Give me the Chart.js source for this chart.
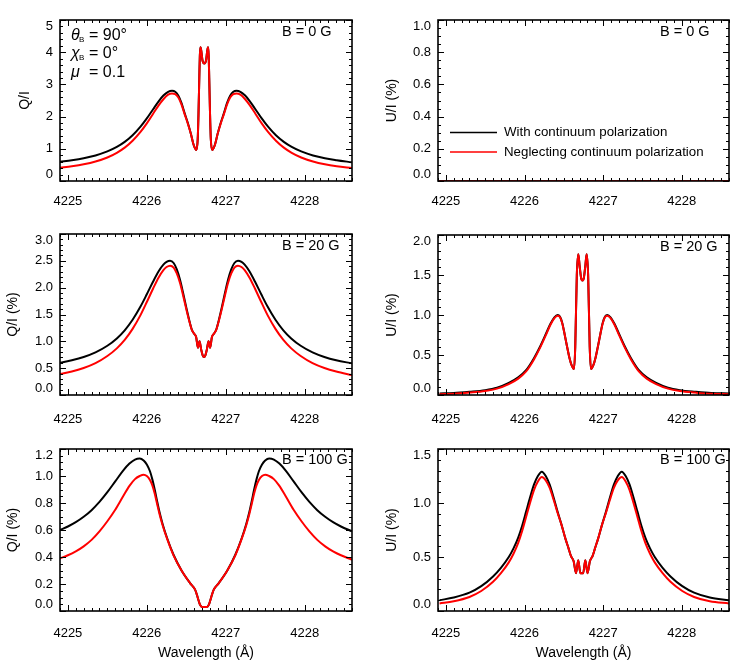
<!DOCTYPE html>
<html><head><meta charset="utf-8">
<script src="https://cdn.jsdelivr.net/npm/chart.js@4.4.1/dist/chart.umd.min.js"></script>
<style>
html,body{margin:0;padding:0;background:#fff;}
#wrap{position:relative;width:752px;height:671px;overflow:hidden;background:#fff;}
canvas{position:absolute;display:block;}
</style></head><body><div id="wrap">
<canvas id="c1" width="376" height="220" style="left:0;top:0;width:376px;height:220px"></canvas>
<canvas id="c2" width="376" height="220" style="left:376px;top:0;width:376px;height:220px"></canvas>
<canvas id="c3" width="376" height="220" style="left:0;top:220px;width:376px;height:220px"></canvas>
<canvas id="c4" width="376" height="220" style="left:376px;top:220px;width:376px;height:220px"></canvas>
<canvas id="c5" width="376" height="231" style="left:0;top:440px;width:376px;height:231px"></canvas>
<canvas id="c6" width="376" height="231" style="left:376px;top:440px;width:376px;height:231px"></canvas>
</div>
<script>
// ---------------- data ----------------
const seriesNames = ['With continuum polarization', 'Neglecting continuum polarization'];
const xTickValues = [4225, 4226, 4227, 4228];

// Q/I, B = 0 G
const wlQ0 = [4224.90, 4225.05, 4225.20, 4225.35, 4225.50, 4225.62, 4225.72, 4225.82, 4225.92, 4226.00, 4226.08, 4226.15, 4226.21, 4226.27, 4226.32, 4226.36, 4226.40, 4226.44, 4226.48, 4226.52, 4226.56, 4226.59, 4226.61, 4226.627, 4226.645, 4226.655, 4226.665, 4226.672, 4226.68, 4226.69, 4226.705, 4226.728,
  4226.751, 4226.766, 4226.776, 4226.784, 4226.791, 4226.801, 4226.811, 4226.829, 4226.846, 4226.866, 4226.896, 4226.936, 4226.976, 4227.016, 4227.056, 4227.096, 4227.136, 4227.186, 4227.246, 4227.306, 4227.376, 4227.456, 4227.536, 4227.636, 4227.736, 4227.836, 4227.956, 4228.106, 4228.256, 4228.406, 4228.60];
const q0With = [0.60, 0.647, 0.708, 0.794, 0.918, 1.058, 1.214, 1.42, 1.687, 1.944, 2.23, 2.476, 2.653, 2.77, 2.80, 2.77, 2.65, 2.42, 2.10, 1.80, 1.45, 1.15, 1.02, 0.96, 1.30, 2.10, 3.20, 3.90, 4.15, 4.05, 3.75, 3.65,
  3.75, 4.05, 4.15, 3.90, 3.20, 2.10, 1.30, 0.96, 1.02, 1.15, 1.45, 1.80, 2.10, 2.42, 2.65, 2.77, 2.80, 2.77, 2.653, 2.476, 2.23, 1.944, 1.687, 1.42, 1.214, 1.058, 0.918, 0.794, 0.708, 0.647, 0.58];
const q0Neg = [0.41, 0.457, 0.518, 0.605, 0.73, 0.875, 1.036, 1.25, 1.525, 1.79, 2.09, 2.35, 2.54, 2.68, 2.72, 2.70, 2.59, 2.37, 2.07, 1.78, 1.45, 1.15, 1.02, 0.96, 1.30, 2.10, 3.20, 3.90, 4.15, 4.05, 3.75, 3.65,
  3.75, 4.05, 4.15, 3.90, 3.20, 2.10, 1.30, 0.96, 1.02, 1.15, 1.45, 1.78, 2.07, 2.37, 2.59, 2.70, 2.72, 2.68, 2.54, 2.35, 2.09, 1.79, 1.525, 1.25, 1.036, 0.875, 0.73, 0.605, 0.518, 0.457, 0.40];

// U/I, B = 0 G
const wlU0 = [4224.90, 4225.50, 4226.00, 4226.50, 4227.00, 4227.50, 4228.00, 4228.60];
const u0With = [0, 0, 0, 0, 0, 0, 0, 0];
const u0Neg  = [0, 0, 0, 0, 0, 0, 0, 0];

// Q/I, B = 20 G
const wlQ20 = [4224.90, 4225.05, 4225.20, 4225.35, 4225.50, 4225.62, 4225.72, 4225.82, 4225.92, 4226.00, 4226.08, 4226.15, 4226.21, 4226.25, 4226.295, 4226.34, 4226.38, 4226.42, 4226.46, 4226.50, 4226.54, 4226.57, 4226.60, 4226.625, 4226.648, 4226.668, 4226.69, 4226.708, 4226.725,
  4226.742, 4226.76, 4226.782, 4226.802, 4226.825, 4226.85, 4226.88, 4226.91, 4226.95, 4226.99, 4227.03, 4227.07, 4227.11, 4227.155, 4227.20, 4227.24, 4227.30, 4227.37, 4227.45, 4227.53, 4227.63, 4227.73, 4227.83, 4227.95, 4228.10, 4228.25, 4228.40, 4228.60];
const q20With = [0.60, 0.647, 0.708, 0.794, 0.917, 1.054, 1.206, 1.402, 1.648, 1.877, 2.115, 2.306, 2.429, 2.48, 2.50, 2.46, 2.34, 2.15, 1.90, 1.63, 1.38, 1.22, 1.14, 1.08, 0.88, 1.00, 0.84, 0.74, 0.71,
  0.74, 0.84, 1.00, 0.88, 1.08, 1.14, 1.22, 1.38, 1.63, 1.90, 2.15, 2.34, 2.46, 2.50, 2.48, 2.429, 2.306, 2.115, 1.877, 1.648, 1.402, 1.206, 1.054, 0.917, 0.794, 0.708, 0.647, 0.59];
const q20Neg = [0.39, 0.437, 0.503, 0.594, 0.727, 0.869, 1.026, 1.232, 1.488, 1.732, 1.985, 2.191, 2.329, 2.385, 2.41, 2.375, 2.265, 2.09, 1.855, 1.60, 1.365, 1.215, 1.14, 1.08, 0.88, 1.00, 0.84, 0.74, 0.71,
  0.74, 0.84, 1.00, 0.88, 1.08, 1.14, 1.215, 1.365, 1.60, 1.855, 2.09, 2.265, 2.375, 2.41, 2.385, 2.329, 2.191, 1.985, 1.732, 1.488, 1.232, 1.026, 0.869, 0.727, 0.594, 0.503, 0.437, 0.37];

// U/I, B = 20 G
const wlU20 = [4224.92, 4225.10, 4225.30, 4225.50, 4225.65, 4225.80, 4225.92, 4226.02, 4226.12, 4226.20, 4226.27, 4226.33, 4226.38, 4226.42, 4226.45, 4226.48, 4226.51, 4226.54, 4226.57, 4226.60, 4226.629, 4226.645, 4226.665, 4226.684, 4226.70, 4226.72, 4226.737,
  4226.754, 4226.774, 4226.79, 4226.809, 4226.829, 4226.845, 4226.874, 4226.904, 4226.934, 4226.964, 4226.994, 4227.024, 4227.054, 4227.094, 4227.144, 4227.204, 4227.274, 4227.354, 4227.454, 4227.554, 4227.674, 4227.824, 4227.974, 4228.174, 4228.374, 4228.60];
const u20With = [0.02, 0.025, 0.04, 0.06, 0.09, 0.15, 0.22, 0.31, 0.46, 0.61, 0.76, 0.89, 0.97, 1.00, 0.98, 0.90, 0.76, 0.61, 0.47, 0.37, 0.325, 0.60, 1.50, 1.76, 1.62, 1.46, 1.43,
  1.46, 1.62, 1.76, 1.50, 0.60, 0.325, 0.37, 0.47, 0.61, 0.76, 0.90, 0.98, 1.00, 0.97, 0.89, 0.76, 0.61, 0.46, 0.31, 0.22, 0.15, 0.09, 0.06, 0.04, 0.025, 0.02];
const u20Neg = [0.01, 0.015, 0.03, 0.05, 0.08, 0.137, 0.205, 0.295, 0.445, 0.595, 0.745, 0.878, 0.96, 0.99, 0.975, 0.895, 0.76, 0.61, 0.47, 0.37, 0.325, 0.60, 1.50, 1.76, 1.62, 1.46, 1.43,
  1.46, 1.62, 1.76, 1.50, 0.60, 0.325, 0.37, 0.47, 0.61, 0.76, 0.895, 0.975, 0.99, 0.96, 0.878, 0.745, 0.595, 0.445, 0.295, 0.205, 0.137, 0.08, 0.05, 0.03, 0.015, 0.01];

// Q/I, B = 100 G
const wlQ100 = [4224.90, 4225.00, 4225.10, 4225.20, 4225.30, 4225.40, 4225.50, 4225.60, 4225.70, 4225.78, 4225.85, 4225.91, 4225.96, 4226.00, 4226.04, 4226.07, 4226.10, 4226.13, 4226.16, 4226.20, 4226.26, 4226.34, 4226.44, 4226.55, 4226.61, 4226.635, 4226.655, 4226.675, 4226.70, 4226.73,
  4226.76, 4226.785, 4226.805, 4226.825, 4226.85, 4226.91, 4227.02, 4227.12, 4227.20, 4227.26, 4227.30, 4227.33, 4227.36, 4227.39, 4227.42, 4227.46, 4227.50, 4227.55, 4227.61, 4227.68, 4227.76, 4227.86, 4227.96, 4228.06, 4228.16, 4228.26, 4228.36, 4228.46, 4228.60];
const q100With = [0.60, 0.626, 0.658, 0.698, 0.747, 0.808, 0.880, 0.960, 1.040, 1.092, 1.122, 1.13, 1.115, 1.085, 1.035, 0.975, 0.90, 0.815, 0.735, 0.645, 0.535, 0.415, 0.30, 0.205, 0.16, 0.12, 0.08, 0.045, 0.03, 0.03,
  0.03, 0.045, 0.08, 0.12, 0.16, 0.205, 0.30, 0.415, 0.535, 0.645, 0.735, 0.815, 0.90, 0.975, 1.035, 1.085, 1.115, 1.13, 1.122, 1.092, 1.040, 0.960, 0.880, 0.808, 0.747, 0.698, 0.658, 0.626, 0.59];
const q100Neg = [0.39, 0.413, 0.442, 0.479, 0.527, 0.59, 0.665, 0.75, 0.85, 0.927, 0.977, 1.00, 1.01, 1.00, 0.97, 0.93, 0.87, 0.795, 0.72, 0.635, 0.53, 0.41, 0.30, 0.205, 0.16, 0.12, 0.08, 0.045, 0.03, 0.03,
  0.03, 0.045, 0.08, 0.12, 0.16, 0.205, 0.30, 0.41, 0.53, 0.635, 0.72, 0.795, 0.87, 0.93, 0.97, 1.00, 1.01, 1.00, 0.977, 0.927, 0.85, 0.75, 0.665, 0.59, 0.527, 0.479, 0.442, 0.413, 0.38];

// U/I, B = 100 G
const wlU100 = [4224.92, 4225.10, 4225.30, 4225.45, 4225.60, 4225.70, 4225.80, 4225.86, 4225.92, 4225.97, 4226.02, 4226.07, 4226.12, 4226.17, 4226.22, 4226.27, 4226.32, 4226.37, 4226.42, 4226.47, 4226.52, 4226.56, 4226.59, 4226.625, 4226.655, 4226.683, 4226.71, 4226.728,
  4226.746, 4226.773, 4226.801, 4226.831, 4226.866, 4226.896, 4226.936, 4226.986, 4227.036, 4227.086, 4227.136, 4227.186, 4227.236, 4227.286, 4227.336, 4227.386, 4227.436, 4227.486, 4227.536, 4227.596, 4227.656, 4227.756, 4227.856, 4228.006, 4228.156, 4228.356, 4228.60];
const u100With = [0.10, 0.125, 0.17, 0.23, 0.32, 0.40, 0.50, 0.58, 0.68, 0.79, 0.92, 1.05, 1.17, 1.25, 1.29, 1.25, 1.17, 1.05, 0.92, 0.80, 0.67, 0.58, 0.51, 0.46, 0.35, 0.47, 0.35, 0.35,
  0.35, 0.47, 0.35, 0.46, 0.51, 0.58, 0.67, 0.80, 0.92, 1.05, 1.17, 1.25, 1.29, 1.25, 1.17, 1.05, 0.92, 0.79, 0.68, 0.58, 0.50, 0.40, 0.32, 0.23, 0.17, 0.125, 0.10];
const u100Neg = [0.07, 0.09, 0.13, 0.185, 0.27, 0.35, 0.45, 0.53, 0.63, 0.74, 0.87, 1.00, 1.12, 1.20, 1.24, 1.21, 1.14, 1.03, 0.91, 0.80, 0.67, 0.58, 0.51, 0.46, 0.35, 0.47, 0.35, 0.35,
  0.35, 0.47, 0.35, 0.46, 0.51, 0.58, 0.67, 0.80, 0.91, 1.03, 1.14, 1.21, 1.24, 1.20, 1.12, 1.00, 0.87, 0.74, 0.63, 0.53, 0.45, 0.35, 0.27, 0.185, 0.13, 0.09, 0.07];

// y tick labels per panel
const yTicksQ0 = [0, 1, 2, 3, 4, 5];
const yTicksU0 = [0.0, 0.2, 0.4, 0.6, 0.8, 1.0];
const yTicksQ20 = [0.0, 0.5, 1.0, 1.5, 2.0, 2.5, 3.0];
const yTicksU20 = [0.0, 0.5, 1.0, 1.5, 2.0];
const yTicksQ100 = [0.0, 0.2, 0.4, 0.6, 0.8, 1.0, 1.2];
const yTicksU100 = [0.0, 0.5, 1.0, 1.5];

// ---------------- drawing ----------------
const FONT = '"Liberation Sans", Arial, Helvetica, sans-serif';
Chart.defaults.font.family = FONT;
Chart.defaults.color = '#000';
const XMIN = 4224.9, XMAX = 4228.6;

const framePlugin = {
  id: 'frameTicks',
  afterDatasetsDraw(chart, args, o) {
    const {ctx, chartArea: a, scales: {x, y}} = chart;
    ctx.save();
    ctx.strokeStyle = '#000';
    ctx.lineWidth = 1;
    ctx.beginPath();
    for (let k = Math.ceil(XMIN * 10 - 1e-6); k <= Math.floor(XMAX * 10 + 1e-6); k++) {
      const major = k % 10 === 0;
      const px = Math.round(x.getPixelForValue(k / 10)) + 0.5;
      const len = major ? 6 : 3;
      ctx.moveTo(px, a.bottom); ctx.lineTo(px, a.bottom - len);
      ctx.moveTo(px, a.top); ctx.lineTo(px, a.top + len);
    }
    const n = Math.round((y.max - y.min) / o.minor);
    const per = Math.round(o.major / o.minor);
    for (let k = 0; k <= n; k++) {
      const v = y.min + k * o.minor;
      const py = Math.round(y.getPixelForValue(v)) + 0.5;
      const len = (k % per === 0) ? 6 : 3;
      ctx.moveTo(a.left, py); ctx.lineTo(a.left + len, py);
      ctx.moveTo(a.right, py); ctx.lineTo(a.right - len, py);
    }
    ctx.stroke();
    ctx.lineWidth = 1.6;
    ctx.strokeRect(a.left, a.top, a.right - a.left, a.bottom - a.top);
    ctx.fillStyle = '#000';
    ctx.font = '14.5px ' + FONT;
    ctx.textBaseline = 'middle';
    ctx.textAlign = 'left';
    ctx.fillText(o.label, a.left + 222, a.top + o.labelDy);
    if (o.params) {
      let yy = a.top + 19.5;
      o.params.forEach(p => {
        ctx.textBaseline = 'alphabetic';
        ctx.font = 'italic 16px ' + FONT;
        ctx.fillText(p[0], a.left + 11, yy);
        if (p[1]) { ctx.font = '8px ' + FONT; ctx.fillText(p[1], a.left + 19, yy + 2); }
        ctx.font = '16px ' + FONT;
        ctx.fillText(p[2], a.left + 29, yy);
        yy += 18.7;
      });
    }
    if (o.legend) {
      const ds = chart.data.datasets;
      ctx.textBaseline = 'middle';
      ctx.font = '13.3px ' + FONT;
      ds.forEach((d, i) => {
        const ly = a.top + 112.5 + i * 19.5;
        ctx.strokeStyle = d.borderColor; ctx.lineWidth = 1.5;
        ctx.beginPath(); ctx.moveTo(a.left + 12, ly); ctx.lineTo(a.left + 59, ly); ctx.stroke();
        ctx.fillText(d.label, a.left + 66, ly);
      });
    }
    ctx.restore();
  }
};

function pts(xs, ys) { return xs.map((v, i) => ({x: v, y: ys[i]})); }

function panel(id, p) {
  const dec = p.dec;
  return new Chart(document.getElementById(id), {
    type: 'line',
    data: {datasets: [
      {label: seriesNames[0], data: pts(p.wl, p.w), borderColor: '#000000', order: 1},
      {label: seriesNames[1], data: pts(p.wl, p.n), borderColor: '#ff0000', order: 0}
    ]},
    options: {
      responsive: false, animation: false, events: [],
      layout: {padding: {top: p.top, right: p.right, left: 0, bottom: 0}},
      elements: {point: {radius: 0}, line: {borderWidth: 2, cubicInterpolationMode: 'monotone', fill: false}},
      plugins: {legend: {display: false}, tooltip: {enabled: false},
        frameTicks: {label: p.label, labelDy: p.labelDy, minor: p.minor, major: p.yt[1] - p.yt[0], params: p.params, legend: p.legend}},
      scales: {
        x: {type: 'linear', min: XMIN, max: XMAX,
          grid: {display: false, drawTicks: false}, border: {display: false},
          afterBuildTicks: s => { s.ticks = xTickValues.map(v => ({value: v})); },
          afterFit: s => { s.height = p.xh; s.paddingLeft = 0; s.paddingRight = 0; },
          ticks: {padding: p.xpad, maxRotation: 0, autoSkip: false, font: {size: 13}, callback: v => String(v)},
          title: {display: !!p.xtitle, text: p.xtitle || '', font: {size: 14}, padding: {top: 0, bottom: 9}}
        },
        y: {type: 'linear', min: p.yt[0], max: p.yt[p.yt.length - 1],
          grid: {display: false, drawTicks: false}, border: {display: false},
          afterBuildTicks: s => { s.ticks = p.yt.map(v => ({value: v})); },
          afterFit: s => { s.width = p.yw; s.paddingTop = 0; s.paddingBottom = 0; },
          ticks: {padding: 7, autoSkip: false, font: {size: 13, lineHeight: '13px'},
            callback: (v, i, arr) => {
              const s = v.toFixed(dec);
              if (i === arr.length - 1) return ['', s];
              if (i === 0) return [s, ''];
              return s;
            }},
          title: {display: true, text: p.ytitle, font: {size: 14}, padding: {top: p.tpad, bottom: 0}}
        }
      }
    },
    plugins: [framePlugin]
  });
}

panel('c1', {wl: wlQ0, w: q0With, n: q0Neg, yt: yTicksQ0, dec: 0, minor: 0.2, top: 20, right: 24, yw: 60, xh: 39, xpad: 13,
  ytitle: 'Q/I', tpad: 17, label: 'B = 0 G', labelDy: 12,
  params: [['\u03B8', 'B', '= 90\u00B0'], ['\u03C7', 'B', '= 0\u00B0'], ['\u03BC', '', '= 0.1']]});
panel('c2', {wl: wlU0, w: u0With, n: u0Neg, yt: yTicksU0, dec: 1, minor: 0.05, top: 20, right: 23, yw: 62, xh: 39, xpad: 13,
  ytitle: 'U/I (%)', tpad: 8, label: 'B = 0 G', labelDy: 12, legend: true});
panel('c3', {wl: wlQ20, w: q20With, n: q20Neg, yt: yTicksQ20, dec: 1, minor: 0.1, top: 14, right: 24, yw: 60, xh: 45, xpad: 17,
  ytitle: 'Q/I (%)', tpad: 5, label: 'B = 20 G', labelDy: 12});
panel('c4', {wl: wlU20, w: u20With, n: u20Neg, yt: yTicksU20, dec: 1, minor: 0.1, top: 15, right: 23, yw: 62, xh: 45, xpad: 17,
  ytitle: 'U/I (%)', tpad: 8, label: 'B = 20 G', labelDy: 12});
panel('c5', {wl: wlQ100, w: q100With, n: q100Neg, yt: yTicksQ100, dec: 1, minor: 0.05, top: 9, right: 24, yw: 60, xh: 60, xpad: 15,
  ytitle: 'Q/I (%)', tpad: 5, label: 'B = 100 G', labelDy: 11, xtitle: 'Wavelength (\u00C5)'});
panel('c6', {wl: wlU100, w: u100With, n: u100Neg, yt: yTicksU100, dec: 1, minor: 0.1, top: 9, right: 23, yw: 62, xh: 60, xpad: 15,
  ytitle: 'U/I (%)', tpad: 8, label: 'B = 100 G', labelDy: 11, xtitle: 'Wavelength (\u00C5)'});
</script>
</body></html>
